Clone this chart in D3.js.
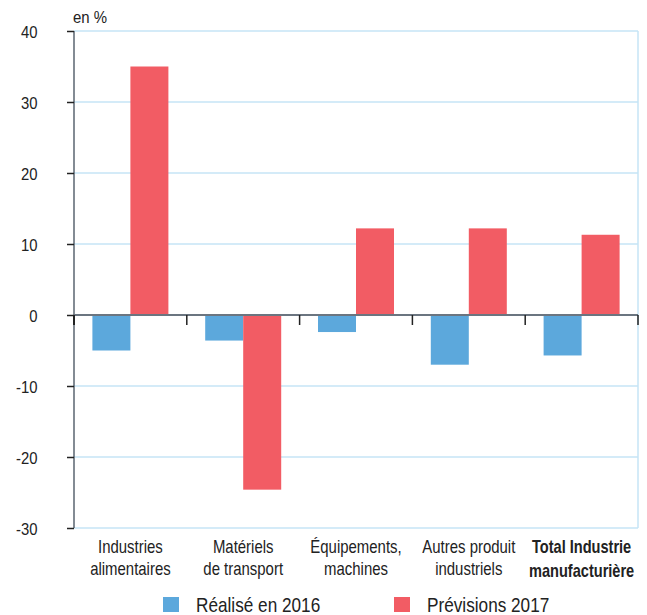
<!DOCTYPE html>
<html><head><meta charset="utf-8">
<script src="https://cdn.jsdelivr.net/npm/d3@7"></script>
<style>
body{margin:0;background:#fff;}
text{font-family:"Liberation Sans",Arial,sans-serif;fill:#222;}
</style></head>
<body><svg id="c" width="647" height="615"></svg>
<script>
const categories = [["Industries","alimentaires"],["Matériels","de transport"],["Équipements,","machines"],["Autres produit","industriels"],["Total Industrie","manufacturière"]];
const realise2016 = [-5.0, -3.6, -2.4, -7.0, -5.7];
const previsions2017 = [35.0, -24.6, 12.2, 12.2, 11.3];
const seriesNames = ["Réalisé en 2016","Prévisions 2017"];
const yTicks = [40,30,20,10,0,-10,-20,-30];
const colors = ["#5ca8dc","#f25c64"];

(function(){
const svg = d3.select("#c");
const pL=74, pR=638, pT=31, pB=528;
const x = d3.scaleBand().domain(d3.range(categories.length)).range([pL,pR]);
const y = d3.scaleLinear().domain([-30,40]).range([pB,pT]);
const bw = 38;

function label(px,py,sx,size,txt,anchor,weight){
  return svg.append("text")
    .attr("transform",`translate(${px},${py}) scale(${sx},1)`)
    .attr("text-anchor",anchor||"start").attr("font-size",size)
    .attr("font-weight",weight||"normal").text(txt);
}

// gridlines
svg.append("g").selectAll("line").data(yTicks).join("line")
  .attr("x1",pL).attr("x2",pR).attr("y1",d=>y(d)).attr("y2",d=>y(d))
  .attr("stroke","#c6e4f6").attr("stroke-width",1.5);
svg.append("line").attr("x1",pR).attr("x2",pR).attr("y1",pT).attr("y2",pB)
  .attr("stroke","#c6e4f6").attr("stroke-width",1.5);

// bars
[realise2016, previsions2017].forEach((ser,si)=>{
  svg.append("g").selectAll("rect").data(ser).join("rect")
    .attr("x",(d,i)=>x(i)+x.bandwidth()/2 - bw + si*bw)
    .attr("width",bw)
    .attr("y",d=>y(Math.max(0,d)))
    .attr("height",d=>Math.abs(y(d)-y(0)))
    .attr("fill",colors[si]);
});

// y axis
const yAxis = d3.axisLeft(y).tickValues(yTicks).tickSize(7).tickPadding(0).tickFormat(d=>String(d));
const ga = svg.append("g").attr("transform",`translate(${pL},0)`).call(yAxis);
ga.select(".domain").attr("stroke","#5a6470").attr("stroke-width",1.5).attr("d",`M0,${pT}V${pB}`);
ga.selectAll(".tick line").attr("stroke","#222").attr("stroke-width",1.5);
ga.selectAll(".tick text").attr("x",0).attr("dy",null).attr("y",6)
  .attr("transform","translate(-36.5,0) scale(0.9,1)")
  .attr("font-size",16.5).attr("fill","#222")
  .style("font-family",'"Liberation Sans",Arial,sans-serif');

// zero line
svg.append("line").attr("x1",pL).attr("x2",pR).attr("y1",y(0)).attr("y2",y(0))
  .attr("stroke","#6b7580").attr("stroke-width",2);
// category separators
const seps = d3.range(1,categories.length+1).map(i=>pL+i*x.bandwidth());
svg.append("g").selectAll("line").data(seps).join("line")
  .attr("x1",d=>d).attr("x2",d=>d).attr("y1",y(0)).attr("y2",y(0)+10)
  .attr("stroke","#222").attr("stroke-width",1.5);
svg.append("line").attr("x1",pL).attr("x2",pL).attr("y1",y(0)).attr("y2",y(0)+10)
  .attr("stroke","#222").attr("stroke-width",2);

label(73,22.5,0.88,17,"en %");

// x labels
categories.forEach((lines,i)=>{
  const bold = i===categories.length-1;
  lines.forEach((l,j)=>{
    label(x(i)+x.bandwidth()/2, 553+j*(bold?23.5:21.5), bold?0.81:0.83, 18, l, "middle", bold?"bold":"normal");
  });
});

// legend
const lx=[163,394];
seriesNames.forEach((n,i)=>{
  svg.append("rect").attr("x",lx[i]).attr("y",597).attr("width",16).attr("height",15).attr("fill",colors[i]);
  label(lx[i]+33,612,0.86,20,n);
});
})();
</script></body></html>
